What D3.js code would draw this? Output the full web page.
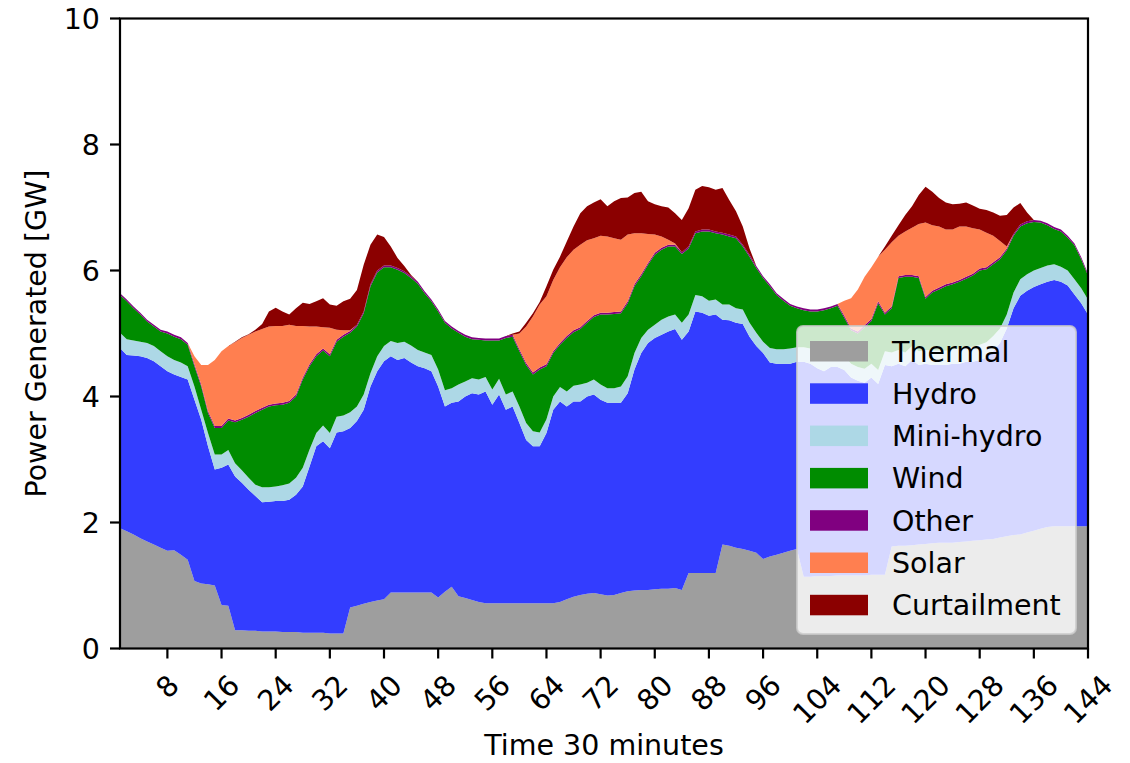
<!DOCTYPE html>
<html>
<head>
<meta charset="utf-8">
<script src="https://cdn.jsdelivr.net/npm/d3@7"></script>
<style>
  html, body { margin: 0; padding: 0; background: #ffffff; }
  svg { display: block; }
  text { font-family: "DejaVu Sans", sans-serif; fill: #000; }
</style>
</head>
<body>
<svg id="chart" width="1130" height="763"></svg>
<script>
// Half-hourly generation mix over three days (GW)
const timeSteps = d3.range(1, 145);

const thermal = [
  1.91, 1.86, 1.81, 1.75, 1.70, 1.65, 1.60, 1.55, 1.56, 1.49,
  1.41, 1.07, 1.03, 1.02, 1.00, 0.69, 0.68, 0.29, 0.29, 0.28,
  0.28, 0.27, 0.27, 0.27, 0.26, 0.26, 0.26, 0.25, 0.25, 0.25,
  0.25, 0.24, 0.24, 0.24, 0.65, 0.68, 0.71, 0.74, 0.76, 0.78,
  0.89, 0.89, 0.89, 0.89, 0.89, 0.89, 0.89, 0.81, 0.90, 0.98,
  0.83, 0.80, 0.77, 0.74, 0.72, 0.72, 0.72, 0.72, 0.72, 0.72,
  0.72, 0.72, 0.72, 0.72, 0.72, 0.74, 0.78, 0.82, 0.85, 0.87,
  0.88, 0.86, 0.84, 0.85, 0.88, 0.91, 0.92, 0.93, 0.93, 0.94,
  0.95, 0.95, 0.96, 0.93, 1.20, 1.20, 1.20, 1.20, 1.20, 1.65,
  1.63, 1.60, 1.58, 1.55, 1.52, 1.42, 1.46, 1.49, 1.52, 1.55,
  1.58, 1.14, 1.14, 1.15, 1.15, 1.15, 1.16, 1.16, 1.16, 1.16,
  1.16, 1.17, 1.17, 1.17, 1.62, 1.63, 1.63, 1.64, 1.65, 1.66,
  1.67, 1.68, 1.68, 1.68, 1.69, 1.70, 1.71, 1.72, 1.73, 1.74,
  1.76, 1.78, 1.80, 1.81, 1.84, 1.87, 1.90, 1.93, 1.94, 1.94,
  1.94, 1.94, 1.94, 1.94
];

const hydro = [
  2.86, 2.80, 2.84, 2.89, 2.91, 2.91, 2.88, 2.85, 2.79, 2.82,
  2.86, 2.88, 2.60, 2.19, 1.84, 2.18, 2.24, 2.44, 2.34, 2.24,
  2.14, 2.05, 2.06, 2.07, 2.08, 2.10, 2.18, 2.32, 2.64, 2.96,
  3.04, 2.94, 3.19, 3.21, 2.85, 2.93, 3.08, 3.42, 3.64, 3.78,
  3.75, 3.69, 3.72, 3.65, 3.59, 3.56, 3.51, 3.35, 2.94, 2.92,
  3.09, 3.20, 3.28, 3.29, 3.36, 3.15, 3.31, 3.07, 3.12, 2.86,
  2.59, 2.49, 2.49, 2.70, 3.07, 3.18, 3.06, 3.10, 3.07, 3.13,
  3.15, 3.09, 3.06, 3.05, 3.02, 3.14, 3.51, 3.76, 3.92, 3.99,
  4.03, 4.08, 4.11, 3.97, 3.83, 4.15, 4.13, 4.08, 4.10, 3.57,
  3.58, 3.57, 3.57, 3.40, 3.28, 3.27, 3.08, 3.03, 3.00, 2.97,
  2.97, 3.41, 3.38, 3.30, 3.25, 3.32, 3.31, 3.26, 3.14, 3.09,
  3.06, 3.13, 3.03, 3.33, 2.86, 2.89, 2.85, 2.94, 2.85, 2.86,
  2.83, 2.82, 2.82, 2.84, 2.83, 2.85, 2.84, 2.86, 2.89, 2.98,
  3.09, 3.30, 3.60, 3.79, 3.84, 3.87, 3.88, 3.89, 3.91, 3.88,
  3.82, 3.68, 3.54, 3.36
];

const miniHydro = [
  0.24, 0.25, 0.24, 0.23, 0.24, 0.24, 0.24, 0.24, 0.23, 0.23,
  0.21, 0.21, 0.16, 0.21, 0.24, 0.21, 0.23, 0.21, 0.20, 0.19,
  0.18, 0.24, 0.23, 0.23, 0.25, 0.26, 0.27, 0.30, 0.27, 0.21,
  0.25, 0.24, 0.25, 0.25, 0.25, 0.23, 0.24, 0.21, 0.24, 0.24,
  0.24, 0.27, 0.26, 0.27, 0.26, 0.25, 0.26, 0.27, 0.26, 0.23,
  0.27, 0.24, 0.24, 0.24, 0.23, 0.24, 0.25, 0.24, 0.24, 0.26,
  0.27, 0.24, 0.22, 0.22, 0.21, 0.23, 0.24, 0.25, 0.27, 0.22,
  0.24, 0.24, 0.23, 0.23, 0.26, 0.27, 0.26, 0.24, 0.21, 0.21,
  0.24, 0.24, 0.23, 0.27, 0.27, 0.26, 0.26, 0.24, 0.24, 0.24,
  0.25, 0.23, 0.23, 0.22, 0.21, 0.18, 0.23, 0.23, 0.23, 0.24,
  0.23, 0.23, 0.24, 0.23, 0.22, 0.23, 0.23, 0.23, 0.22, 0.22,
  0.22, 0.22, 0.22, 0.22, 0.22, 0.22, 0.22, 0.22, 0.22, 0.22,
  0.23, 0.23, 0.23, 0.23, 0.24, 0.23, 0.24, 0.24, 0.24, 0.24,
  0.23, 0.22, 0.25, 0.26, 0.26, 0.26, 0.26, 0.26, 0.25, 0.24,
  0.24, 0.24, 0.24, 0.24
];

const wind = [
  0.60, 0.60, 0.51, 0.43, 0.34, 0.31, 0.31, 0.36, 0.37, 0.37,
  0.34, 0.32, 0.37, 0.32, 0.42, 0.42, 0.47, 0.65, 0.80, 0.97,
  1.14, 1.23, 1.28, 1.29, 1.28, 1.28, 1.29, 1.40, 1.32, 1.22,
  1.19, 1.22, 1.19, 1.25, 1.26, 1.27, 1.29, 1.38, 1.33, 1.25,
  1.17, 1.16, 1.09, 1.07, 1.05, 0.94, 0.85, 0.92, 1.07, 0.95,
  0.82, 0.71, 0.62, 0.63, 0.58, 0.78, 0.61, 0.90, 0.87, 0.88,
  0.92, 0.90, 1.00, 0.84, 0.69, 0.67, 0.85, 0.85, 0.88, 0.95,
  0.99, 1.11, 1.17, 1.18, 1.16, 1.16, 1.06, 0.98, 1.03, 1.11,
  1.11, 1.11, 1.08, 1.09, 1.05, 0.98, 1.03, 1.10, 1.05, 1.11,
  1.08, 1.11, 1.00, 1.05, 1.03, 1.01, 0.98, 0.86, 0.77, 0.68,
  0.62, 0.59, 0.59, 0.67, 0.75, 0.70, 0.74, 0.60, 0.53, 0.53,
  0.66, 0.68, 1.06, 0.58, 0.70, 1.14, 1.20, 1.10, 1.16, 0.81,
  0.92, 0.97, 1.02, 1.03, 1.06, 1.09, 1.13, 1.18, 1.16, 1.14,
  1.10, 1.02, 0.90, 0.84, 0.81, 0.77, 0.72, 0.64, 0.56, 0.56,
  0.52, 0.54, 0.46, 0.38
];

const other = [
  0.03, 0.03, 0.03, 0.03, 0.03, 0.03, 0.03, 0.03, 0.03, 0.03,
  0.03, 0.03, 0.03, 0.03, 0.03, 0.03, 0.03, 0.03, 0.03, 0.03,
  0.03, 0.03, 0.03, 0.03, 0.03, 0.03, 0.03, 0.03, 0.03, 0.03,
  0.03, 0.03, 0.03, 0.03, 0.03, 0.03, 0.03, 0.03, 0.03, 0.03,
  0.03, 0.03, 0.03, 0.03, 0.03, 0.03, 0.03, 0.03, 0.03, 0.03,
  0.03, 0.03, 0.03, 0.03, 0.03, 0.03, 0.03, 0.03, 0.03, 0.03,
  0.03, 0.03, 0.03, 0.03, 0.03, 0.03, 0.03, 0.03, 0.03, 0.03,
  0.03, 0.03, 0.03, 0.03, 0.03, 0.03, 0.03, 0.03, 0.03, 0.03,
  0.03, 0.03, 0.03, 0.03, 0.03, 0.03, 0.03, 0.03, 0.03, 0.03,
  0.03, 0.03, 0.03, 0.03, 0.03, 0.03, 0.03, 0.03, 0.03, 0.03,
  0.03, 0.03, 0.03, 0.03, 0.03, 0.03, 0.03, 0.03, 0.03, 0.03,
  0.03, 0.03, 0.03, 0.03, 0.03, 0.03, 0.03, 0.03, 0.03, 0.03,
  0.03, 0.03, 0.03, 0.03, 0.03, 0.03, 0.03, 0.03, 0.03, 0.03,
  0.03, 0.03, 0.03, 0.03, 0.03, 0.03, 0.03, 0.03, 0.03, 0.03,
  0.03, 0.03, 0.03, 0.03
];

const solar = [
  0, 0, 0, 0, 0, 0, 0, 0, 0, 0,
  0, 0.13, 0.31, 0.73, 1.05, 1.19, 1.15, 1.24, 1.27, 1.27,
  1.26, 1.25, 1.24, 1.23, 1.22, 1.21, 1.09, 0.82, 0.60, 0.44,
  0.34, 0.42, 0.16, 0.07, 0.01, 0, 0, 0, 0, 0,
  0, 0, 0, 0, 0, 0, 0, 0, 0, 0,
  0, 0, 0, 0, 0, 0, 0, 0, 0, 0.25,
  0.58, 0.89, 1.00, 1.08, 1.13, 1.20, 1.25, 1.28, 1.31, 1.28,
  1.22, 1.22, 1.21, 1.17, 1.14, 1.06, 0.81, 0.65, 0.46, 0.29,
  0.18, 0.08, 0.02, 0, 0, 0, 0, 0, 0, 0,
  0, 0, 0, 0, 0, 0, 0, 0, 0, 0,
  0, 0, 0, 0, 0, 0, 0, 0.24, 0.48, 0.67,
  0.77, 0.82, 0.71, 1.00, 1.02, 0.64, 0.69, 0.75, 0.83, 1.18,
  1.04, 0.97, 0.87, 0.84, 0.85, 0.80, 0.72, 0.62, 0.55, 0.42,
  0.26, 0.03, 0, 0, 0, 0, 0, 0, 0, 0,
  0, 0, 0, 0
];

const curtailment = [
  0, 0, 0, 0, 0, 0, 0, 0, 0, 0,
  0, 0, 0, 0, 0, 0, 0, 0.01, 0.01, 0.01,
  0.03, 0.08, 0.24, 0.29, 0.23, 0.16, 0.28, 0.37, 0.36, 0.40,
  0.46, 0.37, 0.38, 0.46, 0.50, 0.55, 0.74, 0.63, 0.57, 0.45,
  0.30, 0.16, 0.08, 0.02, 0, 0, 0, 0, 0, 0,
  0, 0, 0, 0, 0, 0, 0, 0, 0.02, 0.03,
  0.06, 0.05, 0.04, 0.16, 0.16, 0.17, 0.25, 0.37, 0.50, 0.54,
  0.57, 0.58, 0.48, 0.59, 0.66, 0.59, 0.64, 0.66, 0.52, 0.48,
  0.48, 0.51, 0.48, 0.51, 0.61, 0.66, 0.69, 0.67, 0.66, 0.71,
  0.55, 0.40, 0.29, 0.10, 0, 0, 0, 0, 0, 0,
  0, 0, 0, 0, 0, 0, 0, 0, 0, 0,
  0, 0, 0, 0.05, 0.10, 0.17, 0.26, 0.34, 0.46, 0.57,
  0.53, 0.45, 0.43, 0.40, 0.36, 0.38, 0.36, 0.33, 0.36, 0.37,
  0.40, 0.50, 0.42, 0.34, 0.14, 0, 0, 0, 0, 0,
  0, 0, 0, 0
];

const seriesKeys   = ["thermal", "hydro", "miniHydro", "wind", "other", "solar", "curtailment"];
const seriesLabels = ["Thermal", "Hydro", "Mini-hydro", "Wind", "Other", "Solar", "Curtailment"];
const seriesColors = ["#9e9e9e", "#333dff", "#add8e6", "#008c00", "#800080", "#ff7f50", "#8b0000"];

const xTickValues = [8, 16, 24, 32, 40, 48, 56, 64, 72, 80, 88, 96, 104, 112, 120, 128, 136, 144];
const yTickValues = [0, 2, 4, 6, 8, 10];

const xLabel = "Time 30 minutes";
const yLabel = "Power Generated [GW]";

// ---- layout ----
const FS = 28.5;
const plot = { left: 120, right: 1088, top: 18.5, bottom: 648.5 };
const spineW = 2.2, tickLen = 10, tickPad = 10;

const svg = d3.select("#chart");

const x = d3.scaleLinear().domain([1, 144]).range([plot.left, plot.right]);
const y = d3.scaleLinear().domain([0, 10]).range([plot.bottom, plot.top]);

const seriesByKey = { thermal, hydro, miniHydro, wind, other, solar, curtailment };
const rows = timeSteps.map((t, i) => {
  const r = { t };
  seriesKeys.forEach(k => { r[k] = seriesByKey[k][i]; });
  return r;
});

const stacked = d3.stack().keys(seriesKeys)(rows);

const area = d3.area()
  .x(d => x(d.data.t))
  .y0(d => y(d[0]))
  .y1(d => y(d[1]));

const color = d3.scaleOrdinal().domain(seriesKeys).range(seriesColors);

svg.append("g")
  .selectAll("path")
  .data(stacked)
  .join("path")
  .attr("d", area)
  .attr("fill", d => color(d.key));

// ---- axes ----
const axes = svg.append("g");

// spines
axes.append("rect")
  .attr("x", plot.left).attr("y", plot.top)
  .attr("width", plot.right - plot.left).attr("height", plot.bottom - plot.top)
  .attr("fill", "none").attr("stroke", "#000").attr("stroke-width", spineW);

// y ticks and labels
yTickValues.forEach(v => {
  axes.append("line")
    .attr("x1", plot.left - tickLen).attr("x2", plot.left)
    .attr("y1", y(v)).attr("y2", y(v))
    .attr("stroke", "#000").attr("stroke-width", spineW);
  axes.append("text")
    .attr("x", plot.left - tickLen - tickPad)
    .attr("y", y(v))
    .attr("dy", "0.37em")
    .attr("text-anchor", "end")
    .attr("font-size", FS)
    .text(v);
});

// x ticks and rotated labels
xTickValues.forEach(v => {
  axes.append("line")
    .attr("x1", x(v)).attr("x2", x(v))
    .attr("y1", plot.bottom).attr("y2", plot.bottom + tickLen)
    .attr("stroke", "#000").attr("stroke-width", spineW);
  const t = axes.append("text")
    .attr("text-anchor", "middle")
    .attr("dy", "0.346em")
    .attr("font-size", FS)
    .text(v);
  const w = t.node().getComputedTextLength();
  const h = 1.164 * FS;
  const cy = plot.bottom + tickLen + tickPad + (w + h) / (2 * Math.SQRT2);
  t.attr("transform", `translate(${x(v)},${cy}) rotate(-45)`);
});

// axis titles
axes.append("text")
  .attr("x", (plot.left + plot.right) / 2)
  .attr("y", 755)
  .attr("text-anchor", "middle")
  .attr("font-size", FS)
  .text(xLabel);

axes.append("text")
  .attr("transform", `translate(36,${(plot.top + plot.bottom) / 2}) rotate(-90)`)
  .attr("dy", "0.346em")
  .attr("text-anchor", "middle")
  .attr("font-size", FS)
  .text(yLabel);

// ---- legend ----
const legend = svg.append("g");
legend.append("rect")
  .attr("x", 797).attr("y", 326)
  .attr("width", 279).attr("height", 308)
  .attr("rx", 6).attr("ry", 6)
  .attr("fill", "#ffffff").attr("fill-opacity", 0.8)
  .attr("stroke", "#cccccc").attr("stroke-opacity", 0.8).attr("stroke-width", 2);

const rowStep = 42.3;
seriesKeys.forEach((k, i) => {
  legend.append("rect")
    .attr("x", 810).attr("y", 341 + rowStep * i)
    .attr("width", 58).attr("height", 20.5)
    .attr("fill", color(k));
  legend.append("text")
    .attr("x", 892).attr("y", 361.5 + rowStep * i)
    .attr("font-size", FS)
    .text(seriesLabels[i]);
});
</script>
</body>
</html>
